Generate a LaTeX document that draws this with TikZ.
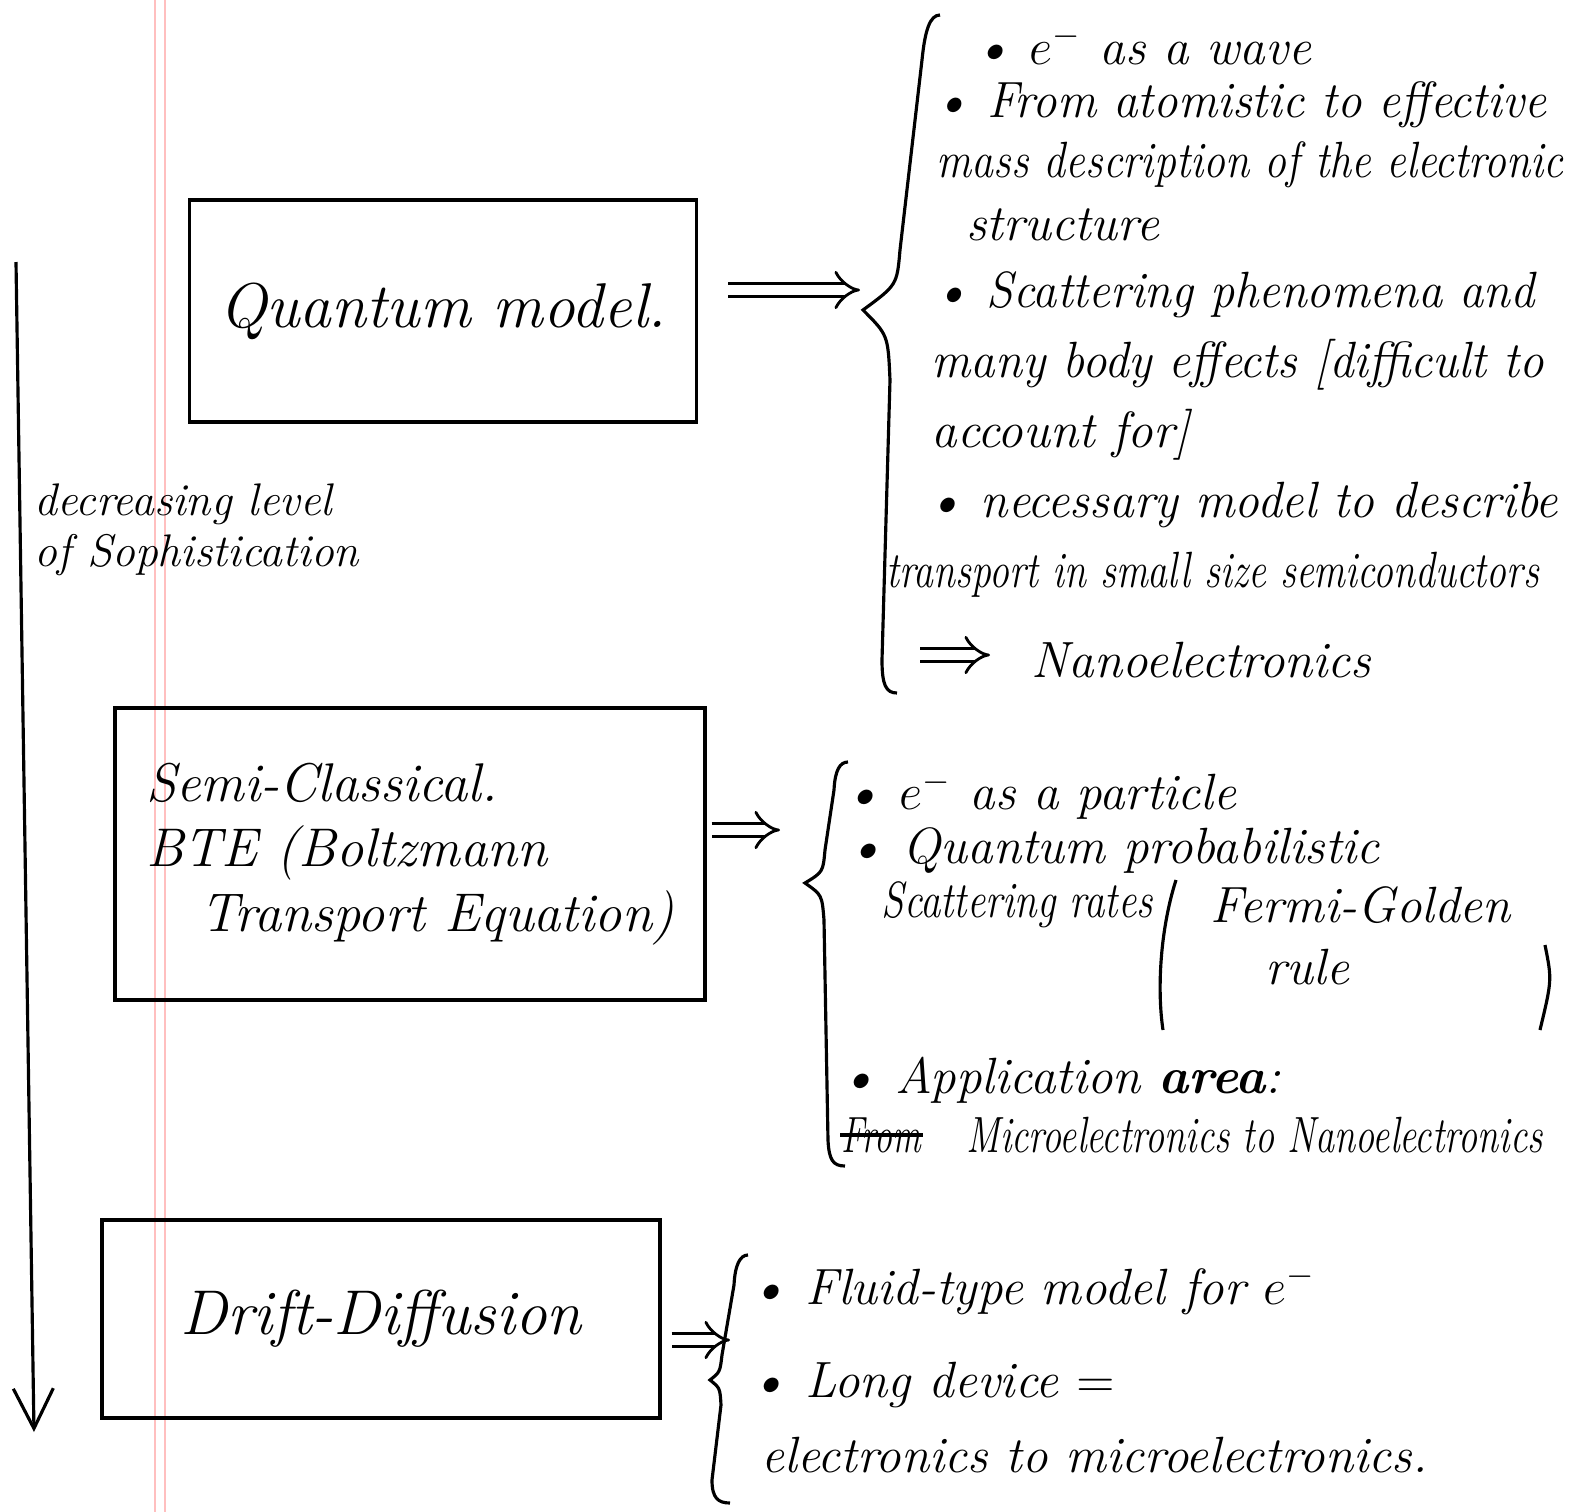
\documentclass[tikz,border=0pt]{standalone}
\usepackage{tikz}
\usepackage{amsmath}
\usetikzlibrary{arrows.meta,positioning}

% squeeze a line of the notes so that it stays on the sheet
\newcommand{\narrowtxt}[2]{\scalebox{#1}[1]{#2}}

\begin{document}
\begin{tikzpicture}[>=stealth, line width=0.9pt,
  box/.style={draw, rectangle, inner sep=0pt, font=\fontsize{18}{20}\selectfont\itshape},
  note/.style={anchor=west, inner sep=0pt, font=\fontsize{14.5}{17}\selectfont\itshape},
  imp/.style={double, double distance=3pt, line width=0.8pt, -{Implies}}]
\useasboundingbox (0,0) rectangle (15.75,-15.12);

% margin of the sheet
\draw[red!25, line width=0.6pt] (1.55,0) -- (1.55,-15.12);
\draw[red!25, line width=0.6pt] (1.65,0) -- (1.65,-15.12);

% level of sophistication
\coordinate (top) at (0.16,-2.62);
\coordinate (bot) at (0.34,-14.32);
\draw[-{Straight Barb[length=4mm,width=4mm]}] (top) -- (bot);
\node[anchor=west, inner sep=0pt, align=left, font=\fontsize{13}{14.5}\selectfont\itshape] (lvl) at (0.33,-5.3)
  {decreasing level\\ of Sophistication};

% the three models
\node[box, minimum width=5.07cm, minimum height=2.22cm] (qm) at (4.43,-3.11) {Quantum model.};
\node[box, minimum width=5.9cm, minimum height=2.92cm, align=left, font=\fontsize{15.5}{18.5}\selectfont\itshape]
  (sc) at (4.10,-8.54) {Semi-Classical.\\ BTE (Boltzmann\\ \quad Transport Equation)};
\node[box, minimum width=5.58cm, minimum height=1.98cm] (dd) at (3.81,-13.19) {Drift-Diffusion};

% braces
\draw (9.4,-0.15) .. controls (9.3,-0.15) and (9.25,-0.3) .. (9.22,-0.6)
  -- (9.0,-2.5) .. controls (8.97,-2.85) .. (8.63,-3.1)
  .. controls (8.88,-3.35) .. (8.9,-3.8)
  -- (8.82,-6.6) .. controls (8.82,-6.85) and (8.86,-6.93) .. (8.97,-6.93);
\draw (8.48,-7.62) .. controls (8.4,-7.62) and (8.35,-7.7) .. (8.34,-7.9)
  -- (8.25,-8.5) .. controls (8.23,-8.72) .. (8.05,-8.83)
  .. controls (8.22,-8.95) .. (8.24,-9.2)
  -- (8.28,-11.4) .. controls (8.29,-11.6) and (8.33,-11.66) .. (8.45,-11.66);
\draw (7.48,-12.55) .. controls (7.4,-12.55) and (7.35,-12.65) .. (7.34,-12.85)
  -- (7.22,-13.55) .. controls (7.2,-13.72) .. (7.1,-13.8)
  .. controls (7.2,-13.88) .. (7.21,-14.05)
  -- (7.12,-14.8) .. controls (7.12,-14.98) and (7.18,-15.03) .. (7.3,-15.03);

% model => properties
\coordinate (qtip) at (8.6,-2.9);
\coordinate (sctip) at (7.8,-8.3);
\coordinate (ddtip) at (7.3,-13.4);
\draw[imp, shorten <=0.3cm] (qm.east |- qtip) -- (qtip);
\draw[imp, shorten <=0.05cm] (sc.east |- sctip) -- (sctip);
\draw[imp, shorten <=0.1cm] (dd.east |- ddtip) -- (ddtip);

% quantum model
\node[note] (q1) at (9.72,-0.45) {\textbullet\ $e^-$ as a wave};
\node[note] (q2) at (9.32,-1.05) {\narrowtxt{0.96}{\textbullet\ From atomistic to effective}};
\node[note] (q3) at (9.35,-1.65) {\narrowtxt{0.86}{mass description of the electronic}};
\node[note] (q4) at (9.65,-2.25) {structure};
\node[note] (q5) at (9.32,-2.95) {\narrowtxt{0.95}{\textbullet\ Scattering phenomena and}};
\node[note] (q6) at (9.3,-3.65) {\narrowtxt{0.96}{many body effects [difficult to}};
\node[note] (q7) at (9.3,-4.35) {account for]};
\node[note] (q8) at (9.25,-5.05) {\narrowtxt{0.97}{\textbullet\ necessary model to describe}};
\node[note] (q9) at (8.85,-5.75) {\narrowtxt{0.78}{transport in small size semiconductors}};
\coordinate (nstart) at (9.2,-6.55);
\node[note] (nano) at (10.3,-6.6) {Nanoelectronics};
\draw[imp, shorten >=0.4cm] (nstart) -- (nano.west |- nstart);

% semi-classical
\node[note] (s1) at (8.42,-7.95) {\textbullet\ $e^-$ as a particle};
\node[note] (s2) at (8.45,-8.5) {\textbullet\ Quantum probabilistic};
\node[note] (s3) at (8.8,-9.05) {\narrowtxt{0.8}{Scattering rates}};
\node[note, right=0.55cm of s3] (fg) {Fermi-Golden};
\node[note] (rule) at ([xshift=0.55cm, yshift=-0.62cm]fg.west) {rule};
\draw (11.76,-8.8) .. controls (11.6,-9.3) and (11.57,-9.9) .. (11.63,-10.3);
\draw (15.45,-9.45) .. controls (15.52,-9.8) .. (15.4,-10.3);
\node[note] (s4) at (8.38,-10.8) {\textbullet\ Application {\bfseries area}:};
\node[note] (from) at (8.4,-11.35) {\narrowtxt{0.7}{From}};
\node[note] (s5) at (9.65,-11.35) {\narrowtxt{0.75}{Microelectronics to Nanoelectronics}};
\draw[line width=1.3pt] (from.west) -- (from.east);

% drift-diffusion
\node[note] (d1) at (7.48,-12.9) {\textbullet\ Fluid-type model for $e^-$};
\node[note] (d2) at (7.48,-13.85) {\textbullet\ Long device $=$};
\node[note] (d3) at (7.6,-14.55) {electronics to microelectronics.};
\end{tikzpicture}
\end{document}
